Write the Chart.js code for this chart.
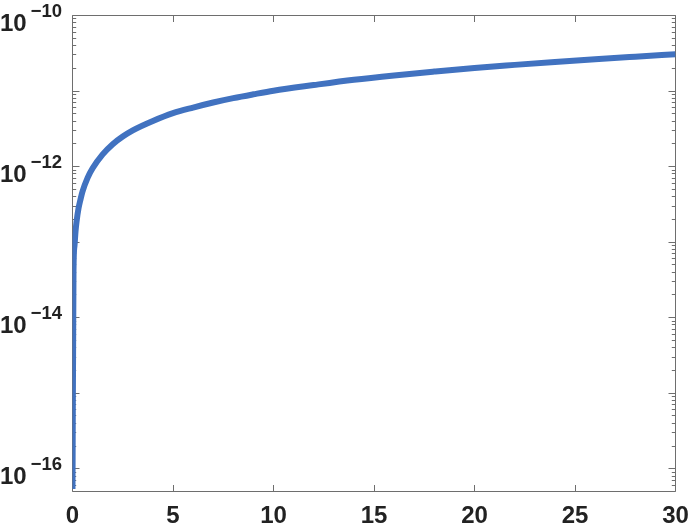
<!DOCTYPE html>
<html>
<head>
<meta charset="utf-8">
<script src="https://cdn.jsdelivr.net/npm/chart.js@4.4.1/dist/chart.umd.min.js"></script>
<style>
  html, body { margin: 0; padding: 0; background: #ffffff; }
  #c { display: block; }
</style>
</head>
<body>
<canvas id="c" width="690" height="528"></canvas>
<script>
// ---- data ----
const xValues = [0, 0.05, 0.1, 0.15, 0.2, 0.3, 0.4, 0.5, 0.75, 1, 1.5, 2, 2.5, 3, 4, 5, 6, 7, 8, 9, 10, 12, 14, 16, 18, 20, 22, 24, 26, 28, 30];
const yValues = [5.4e-17, 4.2e-14, 9.0e-14, 1.38e-13, 1.85e-13, 2.8e-13, 3.7e-13, 4.7e-13, 7.1e-13, 9.5e-13, 1.45e-12, 1.98e-12, 2.5e-12, 3.02e-12, 4.02e-12, 5.1e-12, 6.05e-12, 7.05e-12, 8.05e-12, 9.05e-12, 1.01e-11, 1.2e-11, 1.41e-11, 1.61e-11, 1.81e-11, 2.02e-11, 2.22e-11, 2.43e-11, 2.64e-11, 2.85e-11, 3.07e-11];
const xTicks = [0, 5, 10, 15, 20, 25, 30];
const yLabelExponents = [-16, -14, -12, -10];
const yDecades = [-17, -16, -15, -14, -13, -12, -11, -10];
const xRange = [0, 30];
const yRange = [5.4e-17, 1e-10];

const lineColor = 'rgb(65,114,192)';
const axisColor = '#6e6e6e';
const textColor = '#222222';
const fontFamily = '"Liberation Sans", Helvetica, Arial, sans-serif';

const axesPlugin = {
  id: 'matlabAxes',
  beforeDatasetsDraw(chart) {
    const ctx = chart.ctx;
    const a = chart.chartArea;
    const xs = chart.scales.x, ys = chart.scales.y;
    ctx.save();
    ctx.strokeStyle = axisColor;
    ctx.lineWidth = 1;
    ctx.beginPath();
    ctx.rect(a.left, a.top, a.right - a.left, a.bottom - a.top);
    ctx.stroke();
    ctx.beginPath();
    xTicks.forEach(v => {
      const px = Math.round(xs.getPixelForValue(v) - 0.5) + 0.5;
      ctx.moveTo(px, a.bottom); ctx.lineTo(px, a.bottom - 6.5);
      ctx.moveTo(px, a.top); ctx.lineTo(px, a.top + 6.5);
    });
    yDecades.forEach(d => {
      for (let k = 1; k <= 9; k++) {
        const v = k * Math.pow(10, d);
        if (v < yRange[0] * 0.999 || v > yRange[1] * 1.001) continue;
        const py = Math.round(ys.getPixelForValue(v) - 0.5) + 0.5;
        const len = (k === 1) ? 7 : 3.7;
        ctx.moveTo(a.left, py); ctx.lineTo(a.left + len, py);
        ctx.moveTo(a.right, py); ctx.lineTo(a.right - len, py);
      }
    });
    ctx.stroke();
    ctx.restore();
  },
  afterDraw(chart) {
    const ctx = chart.ctx;
    const ys = chart.scales.y;
    ctx.save();
    ctx.fillStyle = textColor;
    ctx.textAlign = 'left';
    ctx.textBaseline = 'alphabetic';
    yLabelExponents.forEach(e => {
      const py = ys.getPixelForValue(Math.pow(10, e));
      ctx.font = 'bold 24px ' + fontFamily;
      const base = '10';
      ctx.fillText(base, 0, py + 15);
      const w = ctx.measureText(base).width;
      ctx.font = 'bold 18.5px ' + fontFamily;
      ctx.fillText('\u2212' + Math.abs(e), w + 4, py + 1);
    });
    ctx.restore();
  }
};

new Chart(document.getElementById('c'), {
  type: 'line',
  data: {
    datasets: [{
      data: xValues.map((x, i) => ({ x: x, y: yValues[i] })),
      borderColor: lineColor,
      backgroundColor: lineColor,
      borderWidth: 6,
      pointRadius: 0,
      fill: false,
      cubicInterpolationMode: 'monotone',
      borderCapStyle: 'butt',
      borderJoinStyle: 'round'
    }]
  },
  options: {
    responsive: false,
    animation: false,
    events: [],
    layout: { padding: { top: 15.5, right: 14.5, left: 0, bottom: 0 } },
    plugins: { legend: { display: false }, tooltip: { enabled: false }, title: { display: false } },
    scales: {
      x: {
        type: 'linear',
        min: xRange[0], max: xRange[1],
        grid: { display: false, drawTicks: false },
        border: { display: false },
        ticks: {
          stepSize: 5,
          maxRotation: 0,
          autoSkip: false,
          padding: 10,
          color: textColor,
          font: { family: fontFamily, weight: 'bold', size: 24 }
        },
        afterFit(s) { s.height = 36.5; s.paddingLeft = 0; s.paddingRight = 0; }
      },
      y: {
        type: 'logarithmic',
        min: yRange[0], max: yRange[1],
        grid: { display: false, drawTicks: false },
        border: { display: false },
        ticks: { display: false },
        afterFit(s) { s.width = 72.5; s.paddingTop = 0; s.paddingBottom = 0; }
      }
    }
  },
  plugins: [axesPlugin]
});
</script>
</body>
</html>
